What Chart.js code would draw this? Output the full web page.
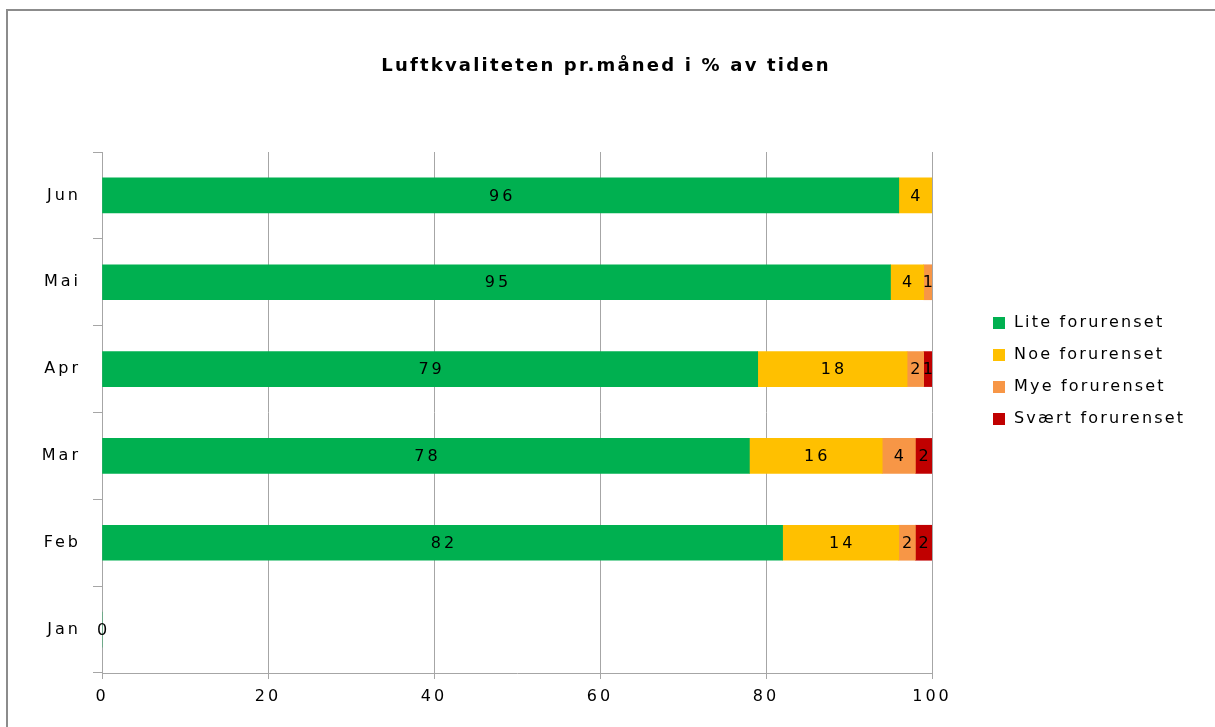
<!DOCTYPE html>
<html>
<head>
<meta charset="utf-8">
<script src="https://cdn.jsdelivr.net/npm/chart.js@4.4.0/dist/chart.umd.min.js"></script>
<style>
  html, body { margin: 0; padding: 0; background: #fff; overflow: hidden; }
  #wrap { position: relative; width: 1215px; height: 727px; }
  #frame {
    position: absolute; left: 6px; top: 9px; width: 1300px; height: 800px;
    border-left: 2px solid #8c8c8c; border-top: 2px solid #8c8c8c;
  }
  canvas { position: absolute; left: 0; top: 0; }
  #tittel {
    position: absolute; left: 0; width: 1212px; top: 54px; text-align: center;
    font-family: "DejaVu Sans", sans-serif; font-weight: bold; font-size: 18px;
    letter-spacing: 2.2px; color: #000;
  }
  #legend {
    position: absolute; left: 993px; top: 312px;
    font-family: "DejaVu Sans", sans-serif; font-size: 16px; letter-spacing: 2.2px; color: #000;
  }
  .item { height: 32px; display: flex; align-items: flex-start; }
  .box { width: 12px; height: 12px; margin-top: 5px; margin-right: 9px; }
</style>
</head>
<body>
<div id="wrap">
  <div id="frame"></div>
  <canvas id="chart" width="1215" height="727"></canvas>
  <div id="tittel">Luftkvaliteten pr.måned i % av tiden</div>
  <div id="legend"></div>
</div>
<script>
// ===============================
// DATA
// ===============================
const maaneder = ["Jun", "Mai", "Apr", "Mar", "Feb", "Jan"];
const lite   = [96, 95, 79, 78, 82, 0];
const noe    = [4, 4, 18, 16, 14, null];
const mye    = [null, 1, 2, 4, 2, null];
const svaert = [null, null, 1, 2, 2, null];
const xTicks = [0, 20, 40, 60, 80, 100];

const serier = [
  { label: "Lite forurenset", data: lite, color: "#00b050" },
  { label: "Noe forurenset", data: noe, color: "#ffc000" },
  { label: "Mye forurenset", data: mye, color: "#f79646" },
  { label: "Svært forurenset", data: svaert, color: "#c00000" }
];

// Bred tekst som i originalen
const bokstavAvstand = {
  id: "bokstavAvstand",
  beforeDraw(chart) { chart.ctx.letterSpacing = "3px"; }
};

// ===============================
// VERDIER INNI SØYLENE
// ===============================
const verdiTekst = {
  id: "verdiTekst",
  afterDatasetsDraw(chart) {
    const c = chart.ctx;
    c.save();
    c.letterSpacing = "3px";
    c.font = "16px 'DejaVu Sans', sans-serif";
    c.fillStyle = "#000";
    c.textAlign = "center";
    c.textBaseline = "middle";
    chart.data.datasets.forEach((ds, i) => {
      chart.getDatasetMeta(i).data.forEach((bar, j) => {
        const v = ds.data[j];
        if (v === null || v === undefined) return;
        const p = bar.getProps(["x", "base", "y"], true);
        c.fillText(String(v), (p.x + p.base) / 2 + 1.5, p.y + 1);
      });
    });
    c.restore();
  }
};

const ctx = document.getElementById("chart");
const chart = new Chart(ctx, {
  type: "bar",
  data: {
    labels: maaneder,
    datasets: serier.map(s => ({
      label: s.label,
      data: s.data,
      backgroundColor: s.color,
      borderWidth: 0,
      barThickness: 35
    }))
  },
  options: {
    indexAxis: "y",
    responsive: false,
    animation: false,
    layout: { padding: { left: 0, right: 283, top: 152, bottom: 0 } },
    scales: {
      x: {
        stacked: true,
        min: 0,
        max: 100,
        afterBuildTicks: axis => { axis.ticks = xTicks.map(v => ({ value: v })); },
        afterFit: axis => { axis.height = 727 - 673; },
        grid: { color: "#a6a6a6", tickLength: 6, lineWidth: 1 },
        border: { color: "#a6a6a6" },
        ticks: {
          color: "#000",
          padding: 8,
          font: { family: "DejaVu Sans", size: 16 }
        }
      },
      y: {
        stacked: true,
        afterFit: axis => { axis.width = 102; },
        grid: { drawOnChartArea: false, drawTicks: true, tickLength: 9, color: "#a6a6a6", offset: true },
        border: { color: "#a6a6a6" },
        ticks: {
          color: "#000",
          padding: 12,
          font: { family: "DejaVu Sans", size: 16 }
        }
      }
    },
    plugins: {
      legend: { display: false },
      tooltip: { enabled: false },
      title: { display: false }
    }
  },
  plugins: [bokstavAvstand, verdiTekst]
});

// ===============================
// FORKLARING
// ===============================
const legend = document.getElementById("legend");
serier.forEach(s => {
  const div = document.createElement("div");
  div.className = "item";
  div.innerHTML = `<span class="box" style="background:${s.color}"></span><span>${s.label}</span>`;
  legend.appendChild(div);
});
</script>
</body>
</html>
